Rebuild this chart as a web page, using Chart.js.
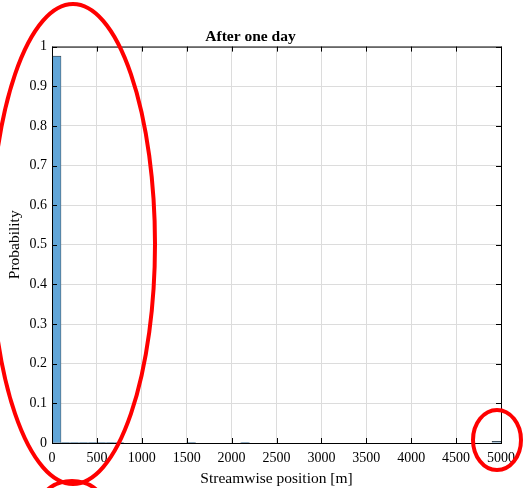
<!DOCTYPE html>
<html>
<head>
<meta charset="utf-8">
<script src="https://cdn.jsdelivr.net/npm/chart.js@4.4.0/dist/chart.umd.min.js"></script>
<style>
  html, body { margin: 0; padding: 0; background: #fff; }
  #wrap { width: 524px; height: 488px; }
</style>
</head>
<body>
<div id="wrap"><canvas id="histChart" width="524" height="488"></canvas></div>
<script>
// Bins of 100 m, from 0 to 5000
const binWidth = 100;
const binStarts = Array.from({ length: 50 }, (_, i) => i * binWidth);

// Probabilities (nearly all mass in the first bin)
const probabilities = [
    0.976, 0.001, 0.001, 0.001, 0.002, 0.0005, 0.0003, 0.0003, 0, 0,
    0, 0, 0, 0, 0, 0.0003, 0, 0, 0, 0,
    0, 0.0003, 0, 0, 0, 0, 0, 0, 0, 0,
    0, 0, 0, 0, 0, 0, 0, 0, 0, 0,
    0, 0, 0, 0, 0, 0, 0, 0, 0, 0.004
];

const xTicks = [0, 500, 1000, 1500, 2000, 2500, 3000, 3500, 4000, 4500, 5000];
const yTicks = [0, 0.1, 0.2, 0.3, 0.4, 0.5, 0.6, 0.7, 0.8, 0.9, 1];

const serif = "'Liberation Serif', 'Times New Roman', serif";

// Box round the plot, inward ticks and the red hand-drawn marks
const boxPlugin = {
    id: 'boxPlugin',
    afterDraw(chart) {
        const { ctx, chartArea: a, scales } = chart;
        ctx.save();
        ctx.strokeStyle = '#000';
        ctx.lineWidth = 1;
        ctx.strokeRect(a.left + 0.5, a.top + 0.5, a.right - a.left, a.bottom - a.top);

        ctx.beginPath();
        xTicks.forEach(v => {
            const px = Math.round(scales.x.getPixelForValue(v)) + 0.5;
            ctx.moveTo(px, a.bottom); ctx.lineTo(px, a.bottom - 5);
            ctx.moveTo(px, a.top); ctx.lineTo(px, a.top + 5);
        });
        yTicks.forEach(v => {
            const py = Math.round(scales.y.getPixelForValue(v)) + 0.5;
            ctx.moveTo(a.left, py); ctx.lineTo(a.left + 5, py);
            ctx.moveTo(a.right, py); ctx.lineTo(a.right - 5, py);
        });
        ctx.stroke();

        // red circles drawn over the figure
        ctx.strokeStyle = '#ff0000';
        ctx.lineWidth = 4;
        ctx.beginPath();
        ctx.ellipse(73, 244, 82, 240, 0, 0, Math.PI * 2);
        ctx.stroke();
        ctx.beginPath();
        ctx.ellipse(497, 440, 24, 30, 0, 0, Math.PI * 2);
        ctx.stroke();
        ctx.beginPath();
        ctx.ellipse(72, 502, 30, 21, 0, 0, Math.PI * 2);
        ctx.stroke();
        ctx.restore();
    }
};

const ctx = document.getElementById('histChart').getContext('2d');

const histChart = new Chart(ctx, {
    type: 'bar',
    data: {
        datasets: [{
            label: 'Probability',
            data: binStarts.map((s, i) => ({ x: s + binWidth / 2, y: probabilities[i] })),
            backgroundColor: '#62a6d8',
            borderColor: '#333333',
            borderWidth: 0.6,
            barPercentage: 1,
            categoryPercentage: 1,
            grouped: false
        }]
    },
    options: {
        responsive: false,
        animation: false,
        layout: { padding: { left: 0, right: 23, top: 0, bottom: 0 } },
        plugins: {
            legend: { display: false },
            tooltip: { enabled: false },
            title: {
                display: true,
                text: 'After one day',
                color: '#000',
                font: { family: serif, size: 15.5, weight: 'bold' },
                padding: { top: 28, bottom: 0 }
            }
        },
        scales: {
            x: {
                type: 'linear',
                min: 0,
                max: 5000,
                offset: false,
                afterBuildTicks: s => { s.ticks = xTicks.map(v => ({ value: v })); },
                afterFit: s => { s.height = 45; },
                ticks: {
                    color: '#000',
                    font: { family: serif, size: 14 },
                    padding: 7,
                    maxRotation: 0,
                    callback: v => String(v)
                },
                grid: { color: '#dcdcdc', lineWidth: 1, drawTicks: false, offset: false },
                border: { display: false },
                title: {
                    display: true,
                    text: 'Streamwise position [m]',
                    color: '#000',
                    font: { family: serif, size: 15.5 },
                    padding: { top: 0, bottom: 0 }
                }
            },
            y: {
                min: 0,
                max: 1,
                afterBuildTicks: s => { s.ticks = yTicks.map(v => ({ value: v })); },
                afterFit: s => { s.width = 52; },
                ticks: {
                    color: '#000',
                    font: { family: serif, size: 14 },
                    padding: 5,
                    callback: v => String(Math.round(v * 10) / 10)
                },
                grid: { color: '#dcdcdc', lineWidth: 1, drawTicks: false },
                border: { display: false },
                title: {
                    display: true,
                    text: 'Probability',
                    color: '#000',
                    font: { family: serif, size: 15.5 },
                    padding: { top: 6, bottom: 0 }
                }
            }
        }
    },
    plugins: [boxPlugin]
});
</script>
</body>
</html>
